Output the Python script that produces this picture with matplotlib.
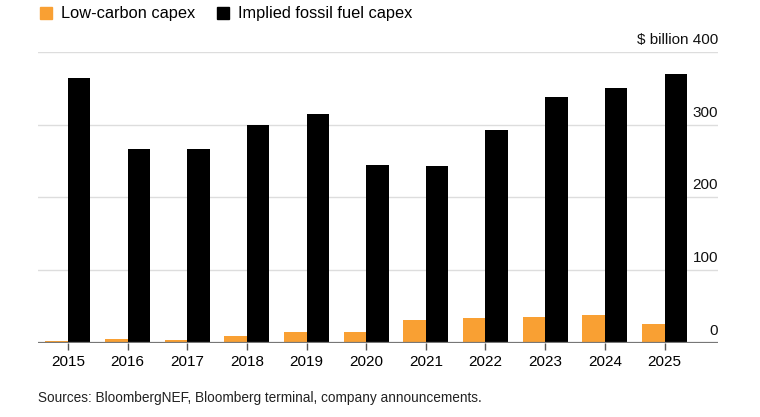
import numpy as np
import matplotlib.pyplot as plt
from matplotlib.lines import Line2D
from matplotlib.transforms import blended_transform_factory

plt.rcParams['font.family'] = ['Liberation Sans', 'DejaVu Sans']

years = ["2015", "2016", "2017", "2018", "2019", "2020",
         "2021", "2022", "2023", "2024", "2025"]
low_carbon = [3.3, 6, 3.7, 9.5, 14.6, 15, 31, 34, 36, 38, 26]
fossil = [364, 267, 267, 300, 314, 245, 243, 293, 338, 351, 369]
y_ticks = [0, 100, 200, 300, 400]

orange = "#F9A033"

fig = plt.figure(figsize=(7.6, 4.17), dpi=100)
ax = fig.add_axes([0.05, 0.1775, 0.895, 0.698])

x = np.arange(len(years))
w = 0.375
ax.bar(x - w / 2, low_carbon, w, color=orange, zorder=3)
ax.bar(x + w / 2, fossil, w, color="black", zorder=3)

ax.set_xlim(-0.5, len(years) - 0.1)
ax.set_ylim(0, 400)

# grid lines
for v in y_ticks[1:]:
    ax.axhline(v, color="#dddddd", lw=1, zorder=1)
ax.axhline(0, color="#777777", lw=1.6, zorder=4)

for s in ax.spines.values():
    s.set_visible(False)
ax.set_yticks([])
ax.set_xticks(x)
ax.set_xticklabels(years, fontsize=11)
ax.tick_params(axis="x", length=5, width=1, color="#555555", pad=4)

# y labels inside right edge, above gridlines
tr = blended_transform_factory(ax.transAxes, ax.transData)
for v in y_ticks:
    lab = "$ billion 400" if v == 400 else str(v)
    ax.text(1.0, v + 7, lab, transform=tr, ha="right", va="bottom",
            fontsize=11, color="#111111")

handles = [
    Line2D([], [], marker="s", ls="", color=orange, markersize=9),
    Line2D([], [], marker="s", ls="", color="black", markersize=9),
]
fig.legend(handles, ["Low-carbon capex", "Implied fossil fuel capex"],
           loc="upper left", bbox_to_anchor=(0.033, 1.02), ncol=2,
           frameon=False, fontsize=11.8, handlelength=0.8, handletextpad=0.5,
           columnspacing=1.3)

fig.text(0.05, 0.035, "Sources: BloombergNEF, Bloomberg terminal, company announcements.",
         fontsize=9.8, color="#222222")

fig.savefig("out.png", dpi=100)
